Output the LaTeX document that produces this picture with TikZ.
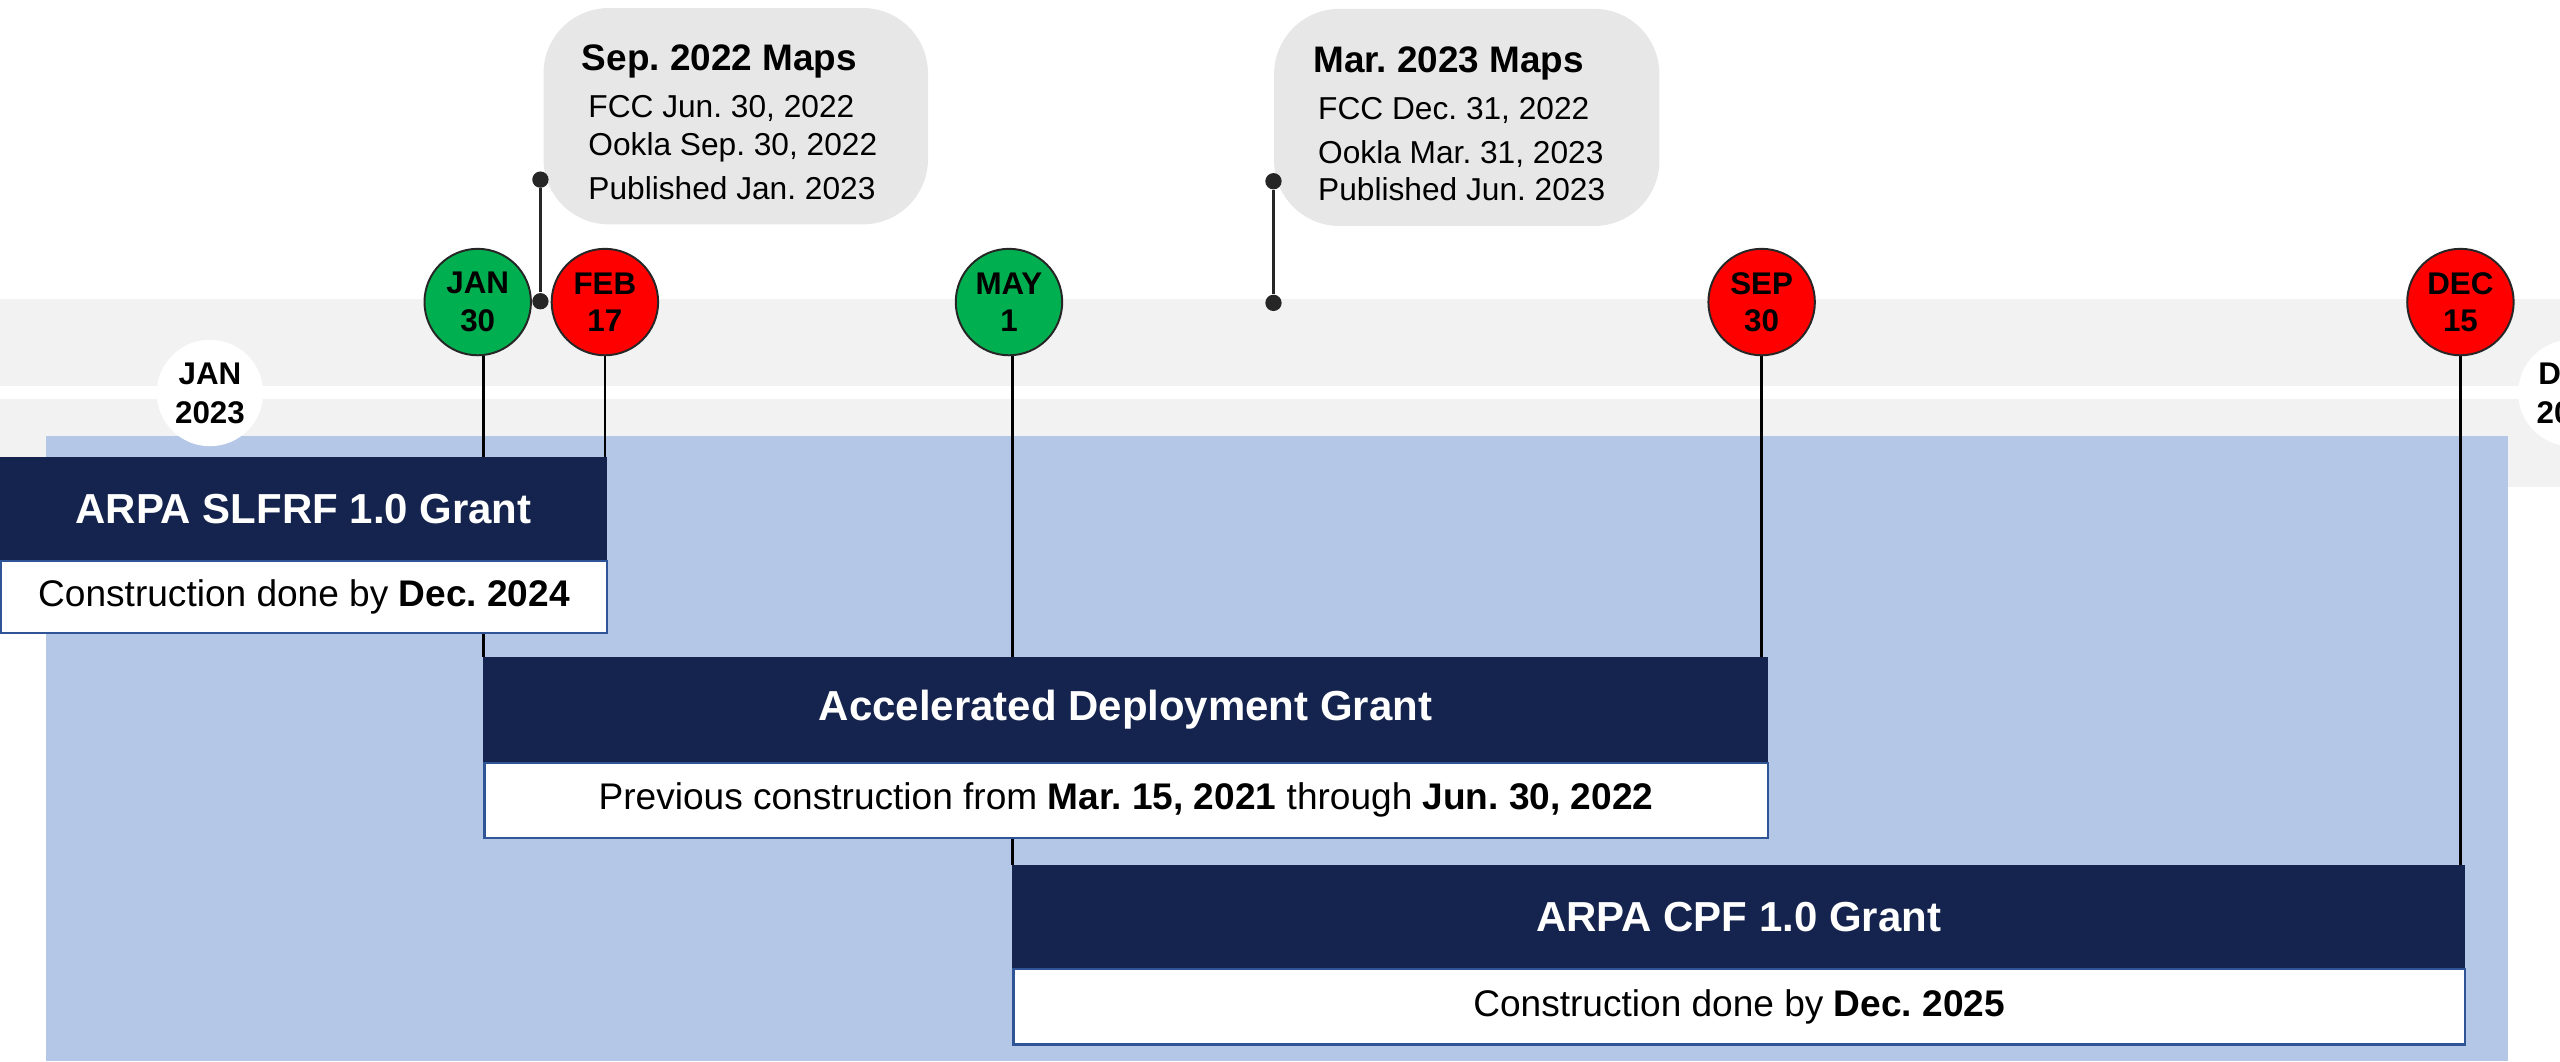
\documentclass[tikz,border=0pt]{standalone}
\usepackage{fontspec}
\setmainfont{Liberation Sans}
\frenchspacing
\definecolor{navy}{HTML}{15244E}
\definecolor{lightblue}{HTML}{B4C7E7}
\definecolor{bandgray}{HTML}{F2F2F2}
\definecolor{callgray}{HTML}{E7E7E7}
\definecolor{dgreen}{HTML}{00B050}
\definecolor{dred}{HTML}{FF0000}
\definecolor{outl}{HTML}{262626}
\definecolor{boxblue}{HTML}{2F5597}
\pgfdeclarelayer{bg}
\pgfdeclarelayer{mid}
\pgfsetlayers{bg,mid,main}
\begin{document}
\begin{tikzpicture}[x=0.5pt,y=-0.5pt,
  datecirc/.style={circle, draw=outl, line width=0.6pt, minimum size=32.6pt, inner sep=0pt,
    font=\fontsize{9.6}{11.5}\selectfont\bfseries, align=center},
  yearcirc/.style={circle, fill=white, minimum size=32.6pt, inner sep=0pt,
    font=\fontsize{9.6}{12}\selectfont\bfseries, align=center},
  headbox/.style={anchor=north west, fill=navy, draw=navy, line width=0.4pt, text=white, inner sep=0pt,
    font=\fontsize{12.85}{15}\selectfont\bfseries},
  subbox/.style={anchor=north west, fill=white, draw=boxblue, line width=0.7pt, inner sep=0pt,
    font=\fontsize{11.35}{13}\selectfont},
  callout/.style={anchor=north west, fill=callgray, rounded corners=20pt, inner sep=0pt,
    minimum width=117.75pt, minimum height=66.5pt},
  calltitle/.style={anchor=base west, inner sep=0pt, font=\fontsize{11.3}{13}\selectfont\bfseries},
  callline/.style={anchor=base west, inner sep=0pt, font=\fontsize{9.7}{12}\selectfont},
  pindot/.style={circle, fill=outl, minimum size=5pt, inner sep=0pt},
  pinline/.style={draw=outl, line width=0.75pt},
  stem/.style={draw=black, line width=0.8pt}
]
\useasboundingbox (0,0) rectangle (1568,650);

% background band and area
\begin{pgfonlayer}{bg}
  \fill[bandgray] (0,183) rectangle (1568,298);
  \fill[white] (0,236.5) rectangle (1568,244.5);
  \fill[lightblue] (28,267) rectangle (1536,650);
\end{pgfonlayer}

% year markers
\node[yearcirc] (jan2023) at (128.6,240.7) {JAN\\2023};
\node[yearcirc] (dec2023) at (1575,240.7) {DEC\\2023};

% callouts
\node[callout, minimum width=117.75pt, minimum height=66.25pt] (c1) at (332.5,4.5) {};
\node[calltitle] (c1t) at (356,43) {Sep. 2022 Maps};
\node[callline] (c1a) at (360,72) {FCC Jun. 30, 2022};
\node[callline] (c1b) at (360,95.5) {Ookla Sep. 30, 2022};
\node[callline] (c1c) at (360,122) {Published Jan. 2023};

\node[callout, minimum width=118pt, minimum height=66.5pt] (c2) at (780,5) {};
\node[calltitle] (c2t) at (804,44.6) {Mar. 2023 Maps};
\node[callline] (c2a) at (807,73) {FCC Dec. 31, 2022};
\node[callline] (c2b) at (807,100) {Ookla Mar. 31, 2023};
\node[callline] (c2c) at (807,123) {Published Jun. 2023};

% pins
\node[pindot] (p1a) at (331,110) {};
\node[pindot] (p1b) at (331,184.5) {};
\draw[pinline] (p1a) -- (p1b);
\node[pindot] (p2a) at (780,111) {};
\node[pindot] (p2b) at (780,185.5) {};
\draw[pinline] (p2a) -- (p2b);

% date circles
\node[datecirc, fill=dgreen] (jan30) at (292.6,185) {JAN\\30};
\node[datecirc, fill=dred] (feb17) at (370.5,185) {FEB\\17};
\node[datecirc, fill=dgreen] (may1) at (618,185) {MAY\\1};
\node[datecirc, fill=dred] (sep30) at (1079,185) {SEP\\30};
\node[datecirc, fill=dred] (dec15) at (1507,185) {DEC\\15};

% grant boxes
\node[headbox, minimum width=185.5pt, minimum height=31.5pt] (slfrfhead) at (0,280) {ARPA SLFRF 1.0 Grant};
\node[subbox, minimum width=185.5pt, minimum height=22pt] (slfrfsub) at (0,343) {Construction done by \textbf{Dec. 2024}};

\node[headbox, minimum width=393pt, minimum height=32pt] (adghead) at (296,402.5) {Accelerated Deployment Grant};
\node[subbox, minimum width=393pt, minimum height=23pt] (adgsub) at (296,466.5) {Previous construction from \textbf{Mar. 15, 2021} through \textbf{Jun. 30, 2022}};

\node[headbox, minimum width=444.5pt, minimum height=31.5pt] (cpfhead) at (620,530) {ARPA CPF 1.0 Grant};
\node[subbox, minimum width=444.5pt, minimum height=23pt] (cpfsub) at (620,593) {Construction done by \textbf{Dec. 2025}};

% stems
\begin{pgfonlayer}{mid}
  \draw[stem] (jan30.south -| adghead.north west) -- (adghead.north west);
  \draw[stem] (feb17.south) -- (feb17.south |- slfrfhead.north);
  \draw[stem] (may1.south -| cpfhead.north west) -- (cpfhead.north west);
  \draw[stem] (sep30.south) -- (sep30.south |- adghead.north);
  \draw[stem] (dec15.south) -- (dec15.south |- cpfhead.north);
\end{pgfonlayer}
\end{tikzpicture}
\end{document}
